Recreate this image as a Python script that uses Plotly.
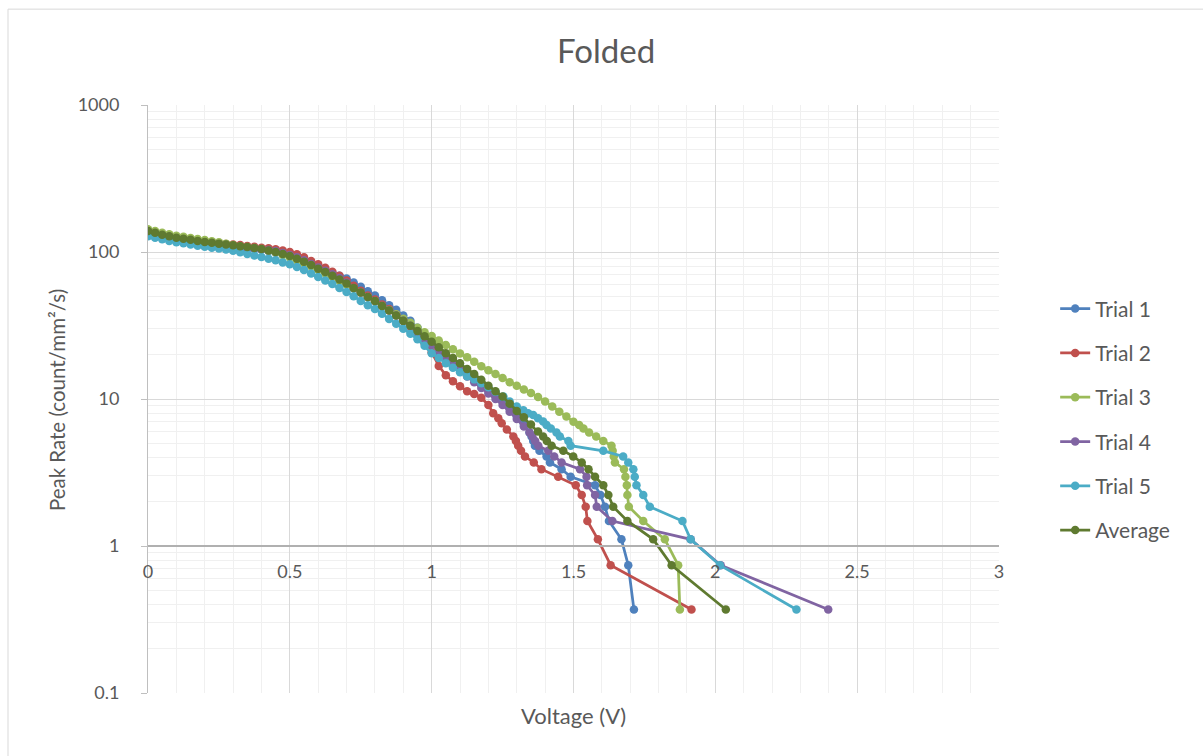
import plotly.graph_objects as go

# Shared dense voltage grid (V)
volt_grid = [0.000, 0.025, 0.050, 0.075, 0.100, 0.125, 0.150, 0.175, 0.200, 0.225,
             0.250, 0.275, 0.300, 0.325, 0.350, 0.375, 0.400, 0.425, 0.450, 0.475,
             0.500, 0.525, 0.550, 0.575, 0.600, 0.625, 0.650, 0.675, 0.700, 0.725,
             0.750, 0.775, 0.800, 0.825, 0.850, 0.875, 0.900, 0.925, 0.950, 0.975,
             1.000, 1.025, 1.050, 1.075, 1.100, 1.125, 1.150, 1.175, 1.200]

# Peak rates (count/mm^2/s) on the dense grid
t1_rate = [136, 132, 128, 124, 121, 119, 117, 115, 113.5, 112, 110.5, 109, 107.5, 106, 105, 105,
           104, 101.5, 99, 96, 93.5, 92, 88.5, 84, 79.5, 75, 71.5, 69, 66, 62, 58, 54, 50.5, 47,
           43.5, 40.5, 37, 34, 30.5, 26.7, 24.3, 21, 19, 17.6, 16.2, 14.9, 13.7, 12.5, 11.4]
t2_rate = [139, 135, 131, 128, 125, 123, 121, 119, 117, 115.5, 114.5, 113.5, 112.5, 111.5, 110,
           108.5, 107, 106, 104.5, 102.5, 100, 96.5, 92, 87, 82.5, 78, 73.5, 69, 64, 59, 54.5,
           50.5, 47.5, 44, 41, 37.5, 34.5, 31, 27.5, 24, 20.8, 16.8, 14.5, 13.2, 12.2, 11.3, 10.8,
           10.2, 9.1]
t3_rate = [143, 139, 135, 132, 129, 127, 124.5, 122.5, 120.5, 118.5, 116.5, 114, 111.5, 109.5,
           108, 106.5, 105, 102.5, 99.5, 95.5, 92, 88, 84, 80, 75.5, 71.5, 67.5, 63.5, 60, 56.5,
           53, 49.5, 46.5, 43, 40.3, 37.7, 35.2, 33, 30.5, 28.5, 26.8, 25, 23.3, 21.8, 20.4, 19.2,
           17.9, 16.7, 15.7]
t4_rate = [138, 134, 130, 127, 124, 122, 120, 118, 116, 114.5, 113, 111.5, 110, 108.5, 107,
           105.5, 104.5, 103, 101.5, 98.5, 95.5, 92, 88, 83, 78.5, 74.5, 70.5, 66.5, 62, 57, 53,
           49.5, 46.5, 43, 40, 37, 34, 31.5, 28.5, 25.7, 23.3, 21.2, 19.4, 17.8, 15.8, 14.2, 13.0,
           11.9, 10.9]
t5_rate = [128, 125, 122, 119, 116.5, 114.5, 112.5, 110.5, 108.5, 107, 105.5, 104, 102, 99.5, 97,
           94.5, 92.5, 90, 88, 85, 82.5, 79, 75.5, 71.5, 67.5, 64, 60.5, 57, 53.5, 50, 46.5, 43.5,
           41, 38, 35, 32.5, 30, 27.8, 25.5, 23, 20.5, 19, 17.5, 16.3, 15.2, 14.3, 13.6, 12.8, 12.0]
avg_rate = [139, 135, 131, 128, 125, 123, 121, 119, 117, 115.5, 114, 112.5, 111, 109.5, 108,
            106.5, 105, 102.5, 100, 97, 94, 90, 86, 81.5, 77, 73, 69, 65, 61, 57, 53, 49.5, 46.5,
            43, 40, 37, 34, 31.5, 29, 26.7, 24.5, 22.5, 20.5, 19, 17.5, 16, 14.8, 13.5, 12.3]

# Tails beyond 1.2 V
t1_tail_v = [1.225, 1.25, 1.275, 1.3, 1.325, 1.345, 1.352, 1.358, 1.364, 1.38, 1.405, 1.417, 1.458,
             1.49, 1.576, 1.595, 1.611, 1.625, 1.669, 1.693, 1.713]
t1_tail_r = [10.5, 9.6, 8.6, 7.6, 6.7, 5.92, 5.55, 5.18, 4.81, 4.44, 4.07, 3.70, 3.33, 2.96, 2.59,
             2.22, 1.85, 1.48, 1.11, 0.74, 0.37]
t2_tail_v = [1.217, 1.235, 1.247, 1.265, 1.288, 1.297, 1.305, 1.315, 1.329, 1.36, 1.387, 1.446,
             1.508, 1.529, 1.543, 1.549, 1.586, 1.631, 1.916]
t2_tail_r = [8.0, 7.4, 6.83, 6.2, 5.55, 5.18, 4.81, 4.44, 4.07, 3.70, 3.33, 2.96, 2.59, 2.22, 1.85,
             1.48, 1.11, 0.74, 0.37]
t3_tail_v = [1.225, 1.25, 1.275, 1.3, 1.325, 1.35, 1.375, 1.4, 1.425, 1.45, 1.475, 1.5, 1.52, 1.535,
             1.555, 1.58, 1.605, 1.634, 1.638, 1.642, 1.646, 1.678, 1.683, 1.688, 1.690, 1.695,
             1.746, 1.822, 1.869, 1.875]
t3_tail_r = [14.8, 13.9, 13.0, 12.3, 11.6, 11.0, 10.3, 9.6, 8.9, 8.2, 7.6, 7.0, 6.66, 6.29, 5.92,
             5.55, 5.18, 4.81, 4.44, 4.07, 3.70, 3.33, 2.96, 2.59, 2.22, 1.85, 1.48, 1.11, 0.74, 0.37]
t4_tail_v = [1.225, 1.25, 1.275, 1.3, 1.325, 1.345, 1.355, 1.365, 1.376, 1.411, 1.432, 1.458, 1.523,
             1.546, 1.548, 1.576, 1.582, 1.637, 1.913, 2.019, 2.398]
t4_tail_r = [10.0, 9.1, 8.2, 7.3, 6.5, 5.92, 5.55, 5.18, 4.81, 4.44, 4.07, 3.70, 3.33, 2.96, 2.59,
             2.22, 1.85, 1.48, 1.11, 0.74, 0.37]
t5_tail_v = [1.225, 1.253, 1.275, 1.3, 1.323, 1.34, 1.358, 1.375, 1.393, 1.405, 1.42, 1.44, 1.452,
             1.482, 1.49, 1.605, 1.675, 1.693, 1.711, 1.716, 1.722, 1.746, 1.769, 1.884, 1.913,
             2.016, 2.286]
t5_tail_r = [11.2, 10.4, 9.6, 8.9, 8.4, 8.0, 7.77, 7.4, 7.03, 6.66, 6.29, 5.92, 5.55, 5.18, 4.81,
             4.44, 4.07, 3.70, 3.33, 2.96, 2.59, 2.22, 1.85, 1.48, 1.11, 0.74, 0.37]
avg_tail_v = [1.225, 1.25, 1.275, 1.3, 1.325, 1.35, 1.375, 1.393, 1.406, 1.423, 1.464, 1.499, 1.529,
              1.553, 1.576, 1.605, 1.623, 1.640, 1.690, 1.781, 1.846, 2.037]
avg_tail_r = [11.3, 10.4, 9.3, 8.3, 7.5, 6.7, 6.0, 5.55, 5.18, 4.81, 4.44, 4.07, 3.70, 3.33, 2.96,
              2.59, 2.22, 1.85, 1.48, 1.11, 0.74, 0.37]

series_names = ["Trial 1", "Trial 2", "Trial 3", "Trial 4", "Trial 5", "Average"]
series_colors = ["#4F81BD", "#C0504D", "#9BBB59", "#8064A2", "#4BACC6", "#5F7A30"]
series_data = [
    (volt_grid + t1_tail_v, t1_rate + t1_tail_r),
    (volt_grid + t2_tail_v, t2_rate + t2_tail_r),
    (volt_grid + t3_tail_v, t3_rate + t3_tail_r),
    (volt_grid + t4_tail_v, t4_rate + t4_tail_r),
    (volt_grid + t5_tail_v, t5_rate + t5_tail_r),
    (volt_grid + avg_tail_v, avg_rate + avg_tail_r),
]

FONT = "Lato, 'Open Sans', sans-serif"
TXT = "#595959"

fig = go.Figure()
for name, color, (xs, ys) in zip(series_names, series_colors, series_data):
    fig.add_trace(go.Scatter(
        x=xs, y=ys, mode="lines+markers", name=name, legendgroup=name,
        line=dict(color=color, width=2.75),
        marker=dict(size=8.5, color=color),
    ))

fig.update_layout(
    width=1203, height=756, autosize=False,
    margin=dict(l=148, r=204, t=105, b=63),
    paper_bgcolor="white", plot_bgcolor="white",
    font=dict(family=FONT, color=TXT, size=18),
    showlegend=True,
    legend=dict(x=1.066, y=0.688, xanchor="left", yanchor="top",
                font=dict(size=21, color=TXT), tracegroupgap=14,
                bgcolor="rgba(0,0,0,0)"),
    xaxis=dict(
        range=[0, 3], dtick=0.5, tick0=0, anchor="free", position=0.25,
        showgrid=True, gridcolor="#d9d9d9", gridwidth=1,
        minor=dict(dtick=0.1, showgrid=True, gridcolor="#f0f0f0", ticks=""),
        zeroline=False, showline=True, linecolor="#b0b0b0", linewidth=1.5,
        ticks="", tickfont=dict(size=18, color=TXT), ticklabelstandoff=10,
    ),
    yaxis=dict(
        type="log", range=[-1, 3], dtick=1,
        showgrid=True, gridcolor="#d9d9d9", gridwidth=1,
        minor=dict(dtick="D1", showgrid=True, gridcolor="#f0f0f0", ticks=""),
        zeroline=False, showline=True, linecolor="#bfbfbf", linewidth=1,
        ticks="outside", ticklen=6, tickcolor="#bfbfbf",
        tickfont=dict(size=18, color=TXT), ticklabelstandoff=18,
    ),
    annotations=[
        dict(text="Folded", x=0.538, y=1.0935, xref="paper", yref="paper",
             showarrow=False, font=dict(size=33, color=TXT), xanchor="center", yanchor="middle"),
        dict(text="Voltage (V)", x=0.5, y=-0.039, xref="paper", yref="paper",
             showarrow=False, font=dict(size=22, color=TXT), xanchor="center", yanchor="middle"),
        dict(text="Peak Rate (count/mm²/s)", x=-0.107, y=0.498, xref="paper", yref="paper",
             showarrow=False, textangle=-90, font=dict(size=20.5, color=TXT),
             xanchor="center", yanchor="middle"),
    ],
    shapes=[
        dict(type="rect", xref="paper", yref="paper", x0=-0.1645, x1=1.25, y0=-0.13, y1=1.163,
             line=dict(color="#d9d9d9", width=1), fillcolor="rgba(0,0,0,0)", layer="below"),
    ],
)

fig.write_html("out.html")
